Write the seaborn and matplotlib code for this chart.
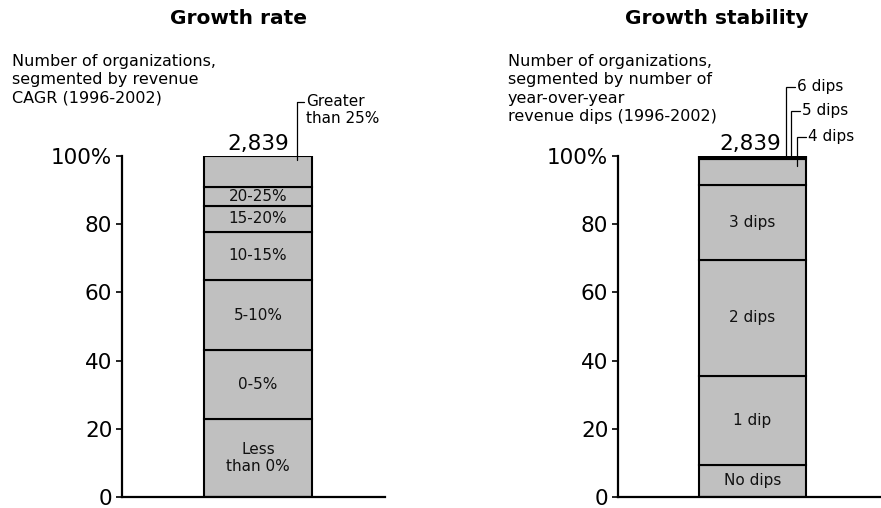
import matplotlib
matplotlib.use("Agg")
import matplotlib.pyplot as plt
import seaborn as sns
import numpy as np

# ---- data -------------------------------------------------------------
total_orgs = 2839

growth_segments = ["Less\nthan 0%", "0-5%", "5-10%", "10-15%", "15-20%", "20-25%", "Greater than 25%"]
growth_share = [22.8, 20.2, 20.7, 14.1, 7.6, 5.6, 9.0]

stability_segments = ["No dips", "1 dip", "2 dips", "3 dips", "4 dips", "5 dips", "6 dips"]
stability_share = [9.5, 26.0, 34.0, 22.0, 7.5, 0.6, 0.4]

y_ticks = [0, 20, 40, 60, 80, 100]
y_tick_labels = ["0", "20", "40", "60", "80", "100%"]

# ---- style ------------------------------------------------------------
sns.set_theme(style="white")
plt.rcParams["font.family"] = ["DejaVu Sans"]
plt.rcParams["text.color"] = "black"
plt.rcParams["axes.labelcolor"] = "black"
plt.rcParams["ytick.color"] = "black"
plt.rcParams["xtick.color"] = "black"

W, H = 881, 508
fig = plt.figure(figsize=(W / 100, H / 100), dpi=100)

FACE = "#c0c0c0"
EDGE = "black"
BAR_W = 1.0
NOTE_SIZE = 11.5


def fig_xy(px, py):
    return px / W, 1 - py / H


def make_axes(x0_px, x1_px):
    y0_px, y1_px = 497, 156
    ax = fig.add_axes([x0_px / W, (H - y0_px) / H, (x1_px - x0_px) / W, (y0_px - y1_px) / H])
    return ax


def stacked_bar(ax, segments, shares, labels_inside):
    bottoms = np.concatenate([[0], np.cumsum(shares)[:-1]])
    for seg, val, bot in zip(segments, shares, bottoms):
        sns.barplot(x=[0], y=[val], bottom=bot, color=FACE, edgecolor=EDGE,
                    linewidth=1.5, width=BAR_W, saturation=1, ax=ax, native_scale=True)
    for seg, val, bot in zip(segments, shares, bottoms):
        if seg in labels_inside:
            ax.text(0, bot + val / 2, seg, ha="center", va="center", fontsize=11,
                    linespacing=1.15, color="#111111")
    return bottoms


def style_axes(ax, xlim):
    ax.set_xlim(*xlim)
    ax.set_ylim(0, 100)
    ax.set_yticks(y_ticks)
    ax.set_yticklabels(y_tick_labels)
    ax.set_xticks([])
    ax.set_xlabel("")
    ax.set_ylabel("")
    for s in ["top", "right"]:
        ax.spines[s].set_visible(False)
    for s in ["left", "bottom"]:
        ax.spines[s].set_color("black")
        ax.spines[s].set_linewidth(1.6)
    ax.tick_params(axis="y", which="both", left=True, length=4, width=1.2,
                   pad=3, labelsize=15.5, colors="black")
    ax.patch.set_alpha(0)


def leader(ax, x, y_bottom, y_corner, x_text, text):
    ax.plot([x, x, x_text - 0.02], [y_bottom, y_corner, y_corner], color="black",
            lw=0.9, clip_on=False, solid_joinstyle="miter")
    ax.text(x_text, y_corner, text, ha="left", va="center", fontsize=11,
            linespacing=1.2, clip_on=False)


# ---- left panel: growth rate -----------------------------------------
ax1 = make_axes(122, 385)
b1 = stacked_bar(ax1, growth_segments, growth_share, growth_segments[:-1])
style_axes(ax1, (-136 / 108, 127 / 108))
top1 = b1[-1] + growth_share[-1]
ax1.text(0, top1 + 1.8, f"{total_orgs:,}", ha="center", va="baseline", fontsize=15.5)
# leader for the top segment
ax1.plot([0.358, 0.358, 0.43], [top1 - 1.2, 115.9, 115.9], color="black", lw=0.9,
         clip_on=False)
ax1.text(0.445, 115.9, "Greater", ha="left", va="center", fontsize=11, clip_on=False)
ax1.text(0.445, 111.0, "than 25%", ha="left", va="center", fontsize=11, clip_on=False)

# ---- right panel: growth stability -----------------------------------
ax2 = make_axes(618, 881)
b2 = stacked_bar(ax2, stability_segments, stability_share, stability_segments[:4])
style_axes(ax2, (-134.5 / 107, 128.5 / 107))
top2 = b2[-1] + stability_share[-1]
ax2.text(-0.02, top2 + 1.8, f"{total_orgs:,}", ha="center", va="baseline", fontsize=15.5)

lead_x = [(796.7 - 752.5) / 107, (790.7 - 752.5) / 107, (785.7 - 752.5) / 107]
lead_corner = [105.7, 113.2, 120.3]
lead_text_x = [(808 - 752.5) / 107, (801.7 - 752.5) / 107, (796.7 - 752.5) / 107]
for i, seg_idx in enumerate([4, 5, 6]):
    bot = b2[seg_idx]
    val = stability_share[seg_idx]
    # small slices: point at their middle; the larger one: just inside its top
    y_b = bot + val - 2.0 if val > 2 else bot + val / 2
    leader(ax2, lead_x[i], y_b, lead_corner[i], lead_text_x[i], stability_segments[seg_idx])

# ---- titles and descriptions -----------------------------------------
fig.text(*fig_xy(238, 18), "Growth rate", ha="center", va="center",
         fontsize=14.5, fontweight="bold")
fig.text(*fig_xy(717, 18), "Growth stability", ha="center", va="center",
         fontsize=14.5, fontweight="bold")
fig.text(*fig_xy(12, 54), "Number of organizations,\nsegmented by revenue\nCAGR (1996-2002)",
         ha="left", va="top", fontsize=NOTE_SIZE, linespacing=1.28)
fig.text(*fig_xy(508, 54),
         "Number of organizations,\nsegmented by number of\nyear-over-year\nrevenue dips (1996-2002)",
         ha="left", va="top", fontsize=NOTE_SIZE, linespacing=1.28)

fig.savefig("out.png", dpi=100, facecolor="white")
